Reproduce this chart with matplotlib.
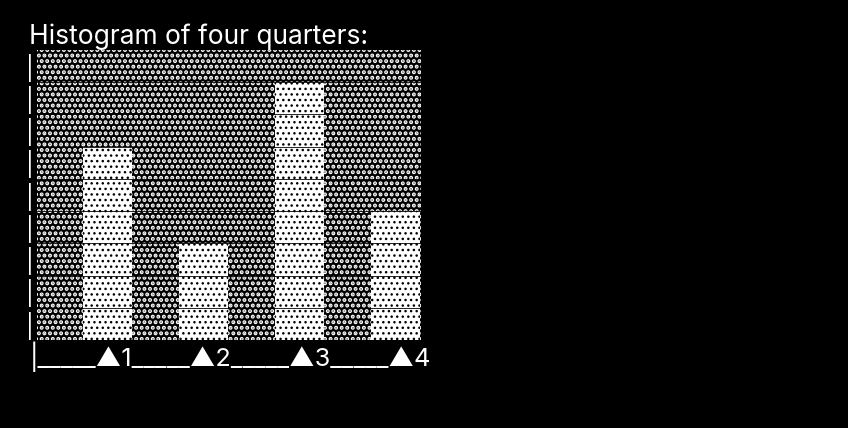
import numpy as np
import matplotlib
matplotlib.use('Agg')
import matplotlib.pyplot as plt
from matplotlib.patches import Rectangle

# quarters and their counts (rows of the text histogram)
quarters = [1, 2, 3, 4]
counts = [6, 3, 8, 4]
nrows = 9
title = 'Histogram of four quarters:'
baseline = '|_____\u25b21_____\u25b22_____\u25b23_____\u25b24'

W, H = 848, 428
fig = plt.figure(figsize=(W/100, H/100), dpi=100, facecolor='black')
ax = fig.add_axes([37/W, (H-340)/H, (421-37)/W, 290/H])
ax.set_facecolor('black')

# shaded background (like the light shade blocks)
plt.rcParams['hatch.linewidth'] = 2.0
bg = Rectangle((0, 0), 1, 1, transform=ax.transAxes, facecolor='black',
               edgecolor='white', hatch='...', lw=0, zorder=0)
ax.add_patch(bg)

# bars (dark shade blocks -> mostly white with black dots)
plt.rcParams['hatch.linewidth'] = 1.0
ax.bar(quarters, counts, width=0.52, color='white', edgecolor='black',
       hatch='...', lw=0, zorder=2)

ax.set_xlim(quarters[0]-0.734, quarters[-1]+0.266)
ax.set_ylim(0, nrows)
ax.set_yticks(np.arange(1, nrows))
ax.yaxis.grid(True, color='black', lw=0.6)
ax.set_axisbelow(False)
ax.tick_params(length=0, labelleft=False, labelbottom=False)
for s in ax.spines.values():
    s.set_visible(False)

font = 'Inter'
for k in range(nrows):
    ax.text(-3/384, k+0.45, '|', transform=ax.get_yaxis_transform(),
            color='white', fontsize=17, family=font, ha='right', va='center')

fig.text(29/W, (H-44)/H, title, color='white', fontsize=19, family=font,
         va='baseline', ha='left')
fig.text(30/W, (H-366)/H, baseline, color='white', fontsize=18.3,
         family=[font, 'DejaVu Sans'], va='baseline', ha='left')

fig.savefig('out.png', dpi=100, facecolor='black')
